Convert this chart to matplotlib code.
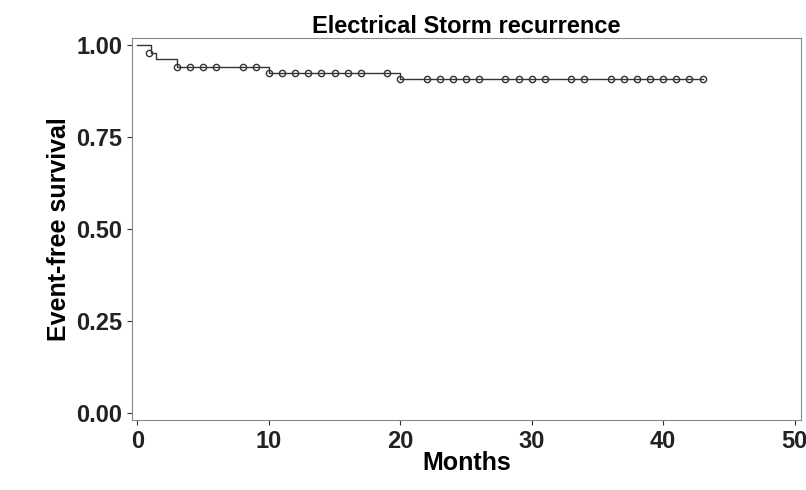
import matplotlib
matplotlib.use('Agg')
import matplotlib.pyplot as plt

plt.rcParams['font.family'] = ['Liberation Sans', 'DejaVu Sans']

# step curve: change times and survival after each change
step_times = [0, 1, 1.4, 3, 10, 20, 43]
step_surv = [1.0, 0.979, 0.962, 0.939, 0.925, 0.907, 0.907]
# censor marks
cens_times = [0.9, 3, 4, 5, 6, 8, 9, 10, 11, 12, 13, 14, 15, 16, 17, 19,
              20, 22, 23, 24, 25, 26, 28, 29, 30, 31, 33, 34,
              36, 37, 38, 39, 40, 41, 42, 43]


def surv_at(t):
    s = step_surv[0]
    for ti, si in zip(step_times, step_surv):
        if ti <= t:
            s = si
    return s


cens_surv = [surv_at(t) for t in cens_times]
cens_surv[0] = 0.979

fig = plt.figure(figsize=(8.06, 4.9), dpi=100)
ax = fig.add_axes([0.164, 0.143, 0.83, 0.78])
ax.plot(step_times, step_surv, drawstyle='steps-post', color='#333333', lw=1)
ax.plot(cens_times, cens_surv, 'o', mfc='none', mec='#333333', ms=4.5, mew=1)
ax.set_xlim(-0.4, 50.5)
ax.set_ylim(-0.02, 1.02)
ax.set_xticks([0, 10, 20, 30, 40, 50])
ax.set_yticks([0, 0.25, 0.5, 0.75, 1.0])
ax.set_yticklabels(['0.00', '0.25', '0.50', '0.75', '1.00'])
for s in ax.spines.values():
    s.set_color('#888888')
ax.tick_params(labelsize=17, colors='#333333', labelcolor='#222222')
for lab in ax.get_xticklabels() + ax.get_yticklabels():
    lab.set_fontweight('bold')
ax.set_title('Electrical Storm recurrence', fontsize=17, fontweight='bold', pad=1)
ax.set_xlabel('Months', fontsize=18, fontweight='bold', labelpad=-1)
ax.set_ylabel('Event-free survival', fontsize=18, fontweight='bold')
fig.savefig('out.png', dpi=100)
